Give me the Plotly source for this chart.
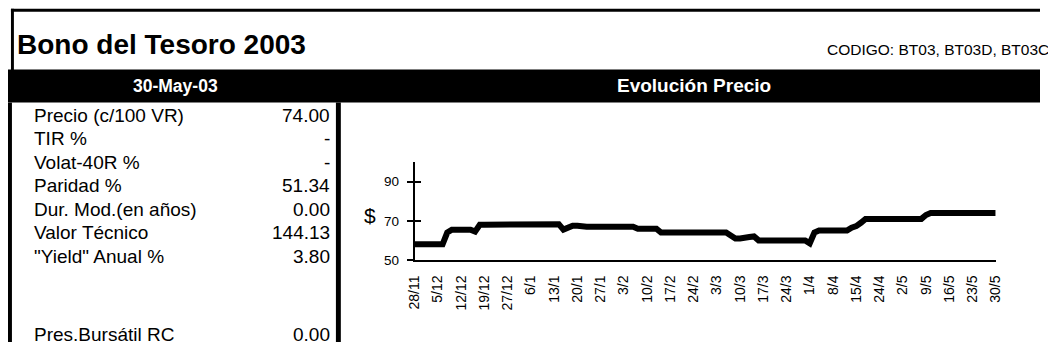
import plotly.graph_objects as go

W, H = 1048, 350

# ---------------- data ----------------
title_text = "Bono del Tesoro 2003"
codigo_text = "CODIGO: BT03, BT03D, BT03C"
fecha_text = "30-May-03"
chart_title = "Evolución Precio"
y_axis_title = "$"

row_labels = ["Precio (c/100 VR)", "TIR %", "Volat-40R %", "Paridad %",
              "Dur. Mod.(en años)", "Valor Técnico", "\"Yield\" Anual %",
              "Pres.Bursátil RC"]
row_values = ["74.00", "-", "-", "51.34", "0.00", "144.13", "3.80", "0.00"]

tick_labels = ["28/11", "5/12", "12/12", "19/12", "27/12", "6/1", "13/1", "20/1",
               "27/1", "3/2", "10/2", "17/2", "24/2", "3/3", "10/3", "17/3",
               "24/3", "1/4", "8/4", "15/4", "24/4", "2/5", "9/5", "16/5",
               "23/5", "30/5"]

# daily prices (trading days), 28/11 .. 30/5
prices = [58, 58, 58, 58, 58, 58, 58, 64, 65.5, 65.5,
          65.5, 65.5, 65.5, 64.5, 68, 68, 68, 68, 68, 68,
          68, 68, 68.3, 68.3, 68.3, 68.3, 68.3, 68.3, 68.3, 68.3,
          68.3, 68.3, 65.5, 66.5, 67.5, 67.5, 67, 67, 67, 67,
          67, 67, 67, 67, 67, 67, 67, 67, 66, 66,
          66, 66, 66, 64, 64, 64, 64, 64, 64, 64,
          64, 64, 64, 64, 64, 64, 64, 64, 62.5, 61,
          61, 61, 61.7, 62, 60, 60, 60, 60, 60, 60,
          60, 60, 60, 60, 60, 58.5, 64, 65, 65, 65,
          65, 65, 65, 65, 66.5, 67.3, 69, 71, 71, 71,
          71, 71, 71, 71, 71, 71, 71, 71, 71, 71,
          73, 74, 74, 74, 74, 74, 74, 74, 74, 74,
          74, 74, 74, 74, 74, 74]
tick_step = 5
y_ticks = [50, 70, 90]

# ---------------- helpers ----------------
FONT = "Liberation Sans, Arial, sans-serif"


def px(x):
    return x / W


def py(y):
    return 1 - y / H


x_idx = list(range(len(prices)))
tickvals = [i * tick_step for i in range(len(tick_labels))]

fig = go.Figure()
fig.add_trace(go.Scatter(x=x_idx, y=prices, mode="lines",
                         line=dict(color="black", width=6),
                         hoverinfo="skip", showlegend=False))
# companion axis (inside ticks -> cross ticks)
fig.add_trace(go.Scatter(x=[], y=[], yaxis="y2", mode="lines",
                         hoverinfo="skip", showlegend=False))

fig.update_layout(
    width=W, height=H,
    margin=dict(l=0, r=0, t=0, b=0),
    paper_bgcolor="white", plot_bgcolor="white",
    font=dict(family=FONT, color="black"),
    xaxis=dict(domain=[px(413), px(1003)], range=[0, len(prices) - 1],
               tickmode="array", tickvals=tickvals, ticktext=tick_labels,
               tickangle=-90, showgrid=False, zeroline=False,
               showline=True, linecolor="black", linewidth=2,
               ticks="", ticklabelstandoff=8,
               tickfont=dict(size=14, family=FONT),
               fixedrange=True),
    yaxis=dict(domain=[py(266), py(166)], range=[50, 100],
               tickmode="array", tickvals=y_ticks,
               showgrid=False, zeroline=False,
               showline=True, linecolor="black", linewidth=2,
               ticks="outside", ticklen=6, tickwidth=2, tickcolor="black",
               ticklabelstandoff=5,
               tickfont=dict(size=13.5, family=FONT), fixedrange=True),
    yaxis2=dict(domain=[py(266), py(166)], range=[50, 100], overlaying="y",
                anchor="x", side="left",
                tickmode="array", tickvals=y_ticks, showticklabels=False,
                showgrid=False, zeroline=False, showline=False,
                ticks="inside", ticklen=6, tickwidth=2, tickcolor="black",
                fixedrange=True),
)

shapes = []


def rect(x0, y0, x1, y1):
    shapes.append(dict(type="rect", xref="paper", yref="paper",
                       x0=px(x0), x1=px(x1), y0=py(y1), y1=py(y0),
                       fillcolor="black", line=dict(width=0), layer="below"))


rect(3, 9, W, 12)        # top border
rect(3, 9, 6, 72)        # left border (title area)
rect(0, 71, W, 105)      # header band
rect(0, 105, 4, H)       # left border (table)
rect(333, 105, 338, H)   # separator
fig.update_layout(shapes=shapes)

ann = []


def text(t, x, y, size, xanchor="left", color="black", bold=False):
    ann.append(dict(text=("<b>%s</b>" % t) if bold else t, x=px(x), y=py(y),
                    xanchor=xanchor, yanchor="middle", showarrow=False,
                    xref="paper", yref="paper",
                    font=dict(size=size, family=FONT, color=color)))


row_y = [118, 142, 166, 190, 214, 238, 262, 342]

text(title_text, 7, 46, 28, bold=True)
text(codigo_text, 830, 51, 15.5)
text(fecha_text, 170, 88, 17.5, xanchor="center", color="white", bold=True)
text(chart_title, 697, 88, 19, xanchor="center", color="white", bold=True)
text(y_axis_title, 368, 221, 21, xanchor="center")
for lab, val, yy in zip(row_labels, row_values, row_y):
    text(lab, 24, yy, 19)
    text(val, 329, yy, 19, xanchor="right")
fig.update_layout(annotations=ann)

fig.write_html("out.html", config={"displayModeBar": False},
               post_script="document.body.style.margin='0';document.body.style.overflow='hidden';")
